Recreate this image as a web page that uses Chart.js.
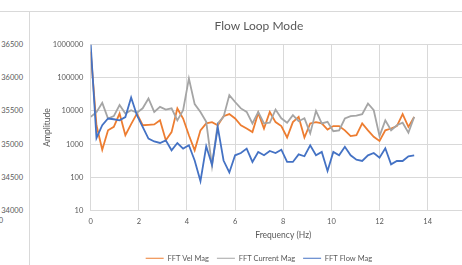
<!DOCTYPE html>
<html>
<head>
<meta charset="utf-8">
<script src="https://cdn.jsdelivr.net/npm/chart.js@4"></script>
<style>
  html, body { margin: 0; padding: 0; background: #fff; overflow: hidden; width: 462px; height: 265px; }
  .ghost { position: absolute; left: 0; width: 23px; text-align: right; font: 7.5px Lato, sans-serif; line-height: 9px; color: #595959; }
  .rule { position: absolute; background: #d9d9d9; }
  #wrap { position: absolute; left: 29px; top: 11px; width: 460px; height: 261px; }
</style>
</head>
<body>
<!-- edge of the neighbouring sheet chart, cut off in the screenshot -->
<div class="ghost" style="top:40px">36500</div>
<div class="ghost" style="top:73px">36000</div>
<div class="ghost" style="top:106px">35500</div>
<div class="ghost" style="top:139.5px">35000</div>
<div class="ghost" style="top:172.5px">34500</div>
<div class="ghost" style="top:205.5px">34000</div>
<div class="ghost" style="top:215.5px;left:-20px">0</div>

<div id="wrap"><canvas id="flowChart"></canvas></div>
<div class="rule" style="left:0;top:11px;width:462px;height:1px"></div>
<div class="rule" style="left:29px;top:11px;width:1px;height:254px"></div>

<script>
const freq = [0, 0.24, 0.48, 0.72, 0.96, 1.2, 1.44, 1.68, 1.92, 2.16, 2.4, 2.64, 2.88, 3.12, 3.36, 3.6, 3.84, 4.08, 4.32, 4.56,
  4.8, 5.04, 5.28, 5.52, 5.76, 6, 6.24, 6.48, 6.72, 6.96, 7.2, 7.44, 7.68, 7.92, 8.16, 8.4, 8.64, 8.88, 9.12, 9.36,
  9.6, 9.84, 10.08, 10.32, 10.56, 10.8, 11.04, 11.28, 11.52, 11.76, 12, 12.24, 12.48, 12.72, 12.96, 13.2, 13.44];

const velMag = [610000, 3700, 680, 2600, 3300, 8300, 1850, 4000, 8300, 3700, 3800, 3900, 5200, 1300, 2300, 11800, 5900, 1850, 650, 2600,
  4200, 4600, 3700, 6900, 8000, 5900, 3700, 2950, 2300, 8700, 2950, 9300, 4600, 3500, 1580, 4600, 6600, 1580, 4200, 4600,
  4200, 2750, 3500, 3500, 2600, 1740, 1850, 4200, 2600, 1660, 1250, 2600, 2950, 3500, 8000, 3300, 6600];

const currentMag = [6600, 9200, 17500, 5900, 6950, 15000, 8300, 10500, 8800, 12000, 23700, 9300, 13200, 11000, 11900, 5200, 10500, 95000, 16000, 9300,
  4700, 220, 4200, 6600, 30000, 18500, 11900, 9300, 4200, 9300, 4200, 4400, 11000, 6000, 4400, 7400, 4900, 6000, 2100, 10000,
  4200, 4700, 2450, 2600, 5900, 6950, 7200, 8000, 16700, 10500, 1740, 5200, 2600, 3700, 4400, 2200, 6600];

const flowMag = [1000000, 1530, 3700, 5900, 5600, 5200, 6500, 25400, 7400, 3300, 1470, 1200, 1080, 1300, 650, 1080, 730, 920, 320, 77,
  860, 240, 3200, 320, 140, 460, 540, 730, 290, 580, 460, 620, 540, 680, 290, 290, 490, 430, 920, 460,
  580, 155, 580, 460, 830, 460, 340, 310, 460, 540, 390, 750, 245, 310, 310, 430, 460];

const yTicks = [10, 100, 1000, 10000, 100000, 1000000];
const xTicks = [0, 2, 4, 6, 8, 10, 12, 14, 16];

const FONT = 'Lato, "Open Sans", sans-serif';
const TEXT = '#595959';
const GRID = '#d9d9d9';

function pts(vals) {
  return freq.map((f, i) => ({ x: f, y: vals[i] }));
}

const ctx = document.getElementById('flowChart').getContext('2d');
new Chart(ctx, {
  type: 'line',
  data: {
    datasets: [
      { label: 'FFT Vel Mag', data: pts(velMag), borderColor: '#ED7D31', backgroundColor: '#ED7D31', order: 3 },
      { label: 'FFT Current Mag', data: pts(currentMag), borderColor: '#A5A5A5', backgroundColor: '#A5A5A5', order: 2 },
      { label: 'FFT Flow Mag', data: pts(flowMag), borderColor: '#4472C4', backgroundColor: '#4472C4', order: 1 }
    ]
  },
  options: {
    responsive: true,
    maintainAspectRatio: false,
    animation: false,
    layout: { padding: { left: 13, right: 13.2, top: 0, bottom: 0 } },
    elements: {
      point: { radius: 0 },
      line: { tension: 0, borderWidth: 1.8, fill: false }
    },
    plugins: {
      tooltip: { enabled: false },
      title: {
        display: true,
        text: 'Flow Loop Mode',
        color: TEXT,
        font: { family: FONT, size: 12, weight: 'normal' },
        padding: { top: 7.8, bottom: 11.3 }
      },
      legend: {
        position: 'bottom',
        labels: {
          usePointStyle: true,
          pointStyle: 'line',
          pointStyleWidth: 18,
          padding: 8,
          color: TEXT,
          font: { family: FONT, size: 7.5 },
          sort: (a, b) => a.datasetIndex - b.datasetIndex
        }
      }
    },
    scales: {
      x: {
        type: 'linear',
        min: 0,
        max: 16,
        afterBuildTicks: s => { s.ticks = xTicks.map(v => ({ value: v })); },
        afterFit: s => { s.height = 36; },
        ticks: { color: TEXT, font: { family: FONT, size: 7.5 }, padding: 7, maxRotation: 0 },
        grid: { color: GRID, drawTicks: false },
        border: { color: GRID },
        title: {
          display: true,
          text: 'Frequency (Hz)',
          color: TEXT,
          font: { family: FONT, size: 8.5 },
          padding: { top: 0, bottom: 6 }
        }
      },
      y: {
        type: 'logarithmic',
        min: 10,
        max: 1000000,
        afterBuildTicks: s => { s.ticks = yTicks.map(v => ({ value: v })); },
        afterFit: s => { s.width = 48.7; },
        ticks: { color: TEXT, font: { family: FONT, size: 7.5 }, padding: 7.4, callback: v => String(v) },
        grid: { color: GRID, drawTicks: false },
        border: { color: GRID },
        title: {
          display: true,
          text: 'Amplitude',
          color: TEXT,
          font: { family: FONT, size: 8.5 },
          padding: { top: 0, bottom: 0 }
        }
      }
    }
  }
});
</script>
</body>
</html>
